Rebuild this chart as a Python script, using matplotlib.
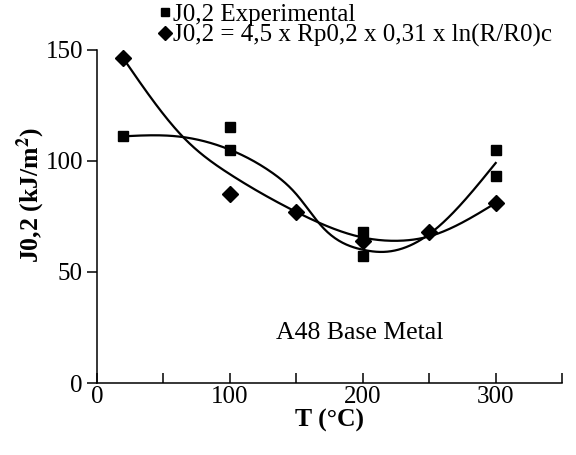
import numpy as np
import matplotlib
matplotlib.use('Agg')
import matplotlib.pyplot as plt
from matplotlib.lines import Line2D

plt.rcParams['font.family'] = ['Liberation Serif', 'DejaVu Serif']
plt.rcParams['mathtext.fontset'] = 'stix'

# experimental J0,2 values (two specimens per temperature)
T_exp = [20, 100, 100, 200, 200, 300, 300]
J_exp = [111, 115, 105, 68, 57, 105, 93]

# J0,2 estimated from Rp0,2 and the critical ln(R/R0)
T_calc = [20, 100, 150, 200, 250, 300]
J_calc = [146, 85, 77, 64, 68, 81]

# smoothed trend through each series
T_trend_exp = [20, 60, 100, 131, 150, 170, 200, 215, 250, 300]
J_trend_exp = [111, 111, 105, 95, 85, 70, 60, 59, 67, 99]
T_trend_calc = [20, 66, 100, 150, 200, 225, 250, 300]
J_trend_calc = [146, 110, 94, 77, 65.5, 64, 66, 81]


def natural_spline(x, y, xs):
    x = np.asarray(x, float)
    y = np.asarray(y, float)
    n = len(x)
    h = np.diff(x)
    A = np.zeros((n, n))
    b = np.zeros(n)
    A[0, 0] = A[-1, -1] = 1
    for i in range(1, n - 1):
        A[i, i - 1] = h[i - 1]
        A[i, i] = 2 * (h[i - 1] + h[i])
        A[i, i + 1] = h[i]
        b[i] = 6 * ((y[i + 1] - y[i]) / h[i] - (y[i] - y[i - 1]) / h[i - 1])
    M = np.linalg.solve(A, b)
    k = np.clip(np.searchsorted(x, xs) - 1, 0, n - 2)
    t0 = x[k + 1] - xs
    t1 = xs - x[k]
    hk = h[k]
    return (M[k] * t0**3 / (6 * hk) + M[k + 1] * t1**3 / (6 * hk)
            + (y[k] / hk - M[k] * hk / 6) * t0
            + (y[k + 1] / hk - M[k + 1] * hk / 6) * t1)


fig = plt.figure(figsize=(5.76, 4.55), dpi=100)
ax = fig.add_axes([0.168, 0.158, 0.808, 0.733])

xs = np.linspace(20, 300, 300)
ax.plot(xs, natural_spline(T_trend_exp, J_trend_exp, xs), color='black', lw=1.6)
ax.plot(xs, natural_spline(T_trend_calc, J_trend_calc, xs), color='black', lw=1.6)

ax.plot(T_exp, J_exp, 's', color='black', ms=6.5, ls='none')
ax.plot(T_calc, J_calc, 'D', color='black', ms=8.5, ls='none')

ax.set_xlim(0, 350)
ax.set_ylim(0, 150)
ax.set_xticks([0, 50, 100, 150, 200, 250, 300, 350])
ax.set_xticklabels(['0', '', '100', '', '200', '', '300', ''])
ax.set_yticks([0, 50, 100, 150])
ax.tick_params(axis='x', direction='in', length=7, width=1.1, labelsize=18, pad=2)
ax.tick_params(axis='y', direction='out', length=7, width=1.1, labelsize=18, pad=3)
for s in ['top', 'right']:
    ax.spines[s].set_visible(False)
for s in ['left', 'bottom']:
    ax.spines[s].set_linewidth(1.1)

ax.set_xlabel('T (°C)', fontsize=18.5, fontweight='bold', labelpad=1)
ax.set_ylabel('J0,2 (kJ/m$^\\mathbf{2}$)', fontsize=18.5, fontweight='bold')
ax.yaxis.set_label_coords(-0.108, 0.564)

ax.text(198, 22.5, 'A48 Base Metal', fontsize=18.5, ha='center', va='center')

handles = [
    Line2D([], [], marker='s', color='black', ls='none', ms=5.5),
    Line2D([], [], marker='D', color='black', ls='none', ms=7),
]
labels = ['J0,2 Experimental', 'J0,2 = 4,5 x Rp0,2 x 0,31 x ln(R/R0)c']
fig.legend(handles, labels, loc='upper left', bbox_to_anchor=(0.261, 1.015),
           frameon=False, fontsize=18, handlelength=0.4, handletextpad=0.1,
           labelspacing=-0.08, borderaxespad=0)

fig.savefig('out.png', dpi=100)
